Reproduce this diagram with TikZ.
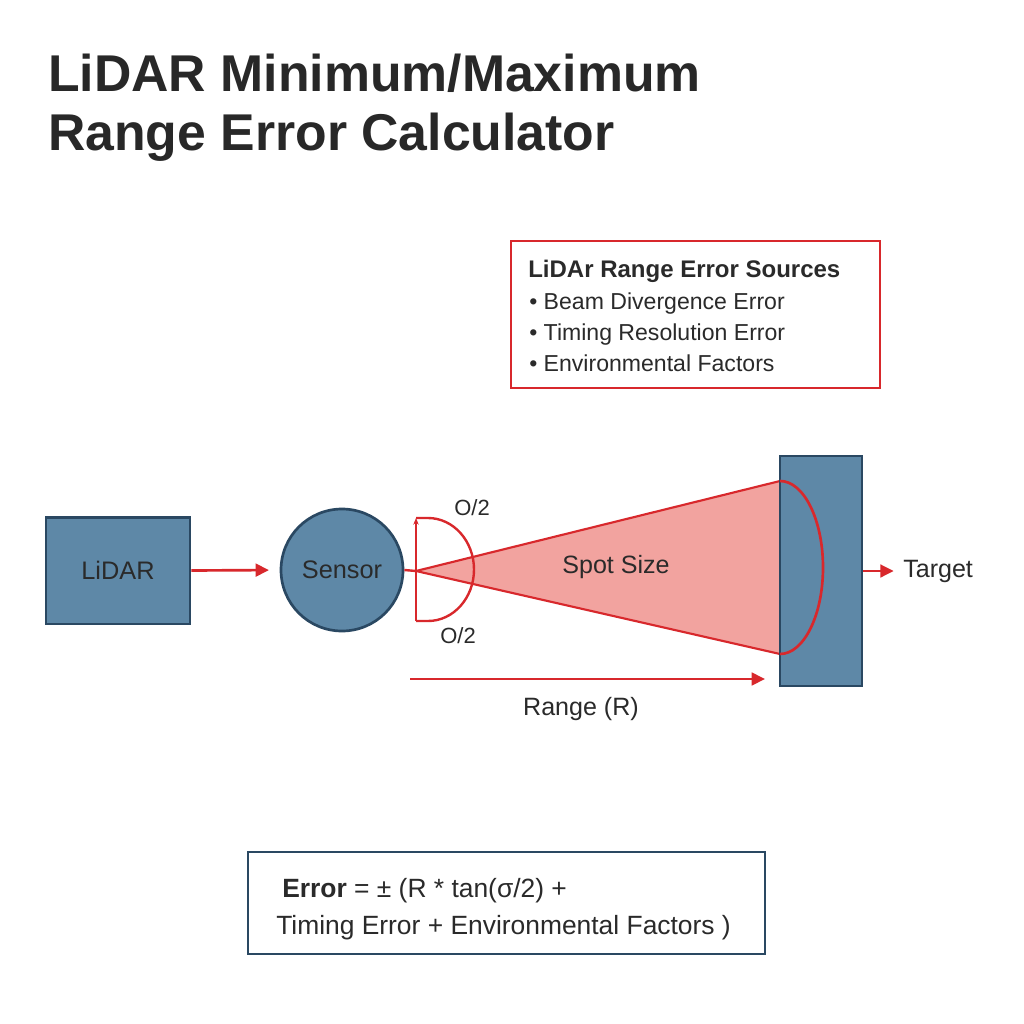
\documentclass[tikz,border=0pt]{standalone}
\usepackage{fontspec}
\setmainfont{Liberation Sans}
\usetikzlibrary{arrows.meta}
\definecolor{boxblue}{HTML}{5E88A7}
\definecolor{boxedge}{HTML}{2A4862}
\definecolor{lred}{HTML}{D8282C}
\definecolor{conefill}{HTML}{F2A39F}
\definecolor{ink}{HTML}{2A2A2A}
\begin{document}
\begin{tikzpicture}[x=0.75pt,y=-0.75pt,
  blk/.style={draw=boxedge, fill=boxblue, line width=2pt, text=ink, font=\fontsize{19}{22}\selectfont},
  redln/.style={draw=lred, line width=1.8pt},
  arr/.style={redln, line width=2pt, -{Triangle[length=10pt,width=9.5pt]}},
  lbl/.style={inner sep=0pt, text=ink, font=\fontsize{18.8}{22}\selectfont},
  ttl/.style={inner sep=0pt, anchor=base west, text=ink!95!black, font=\fontsize{38.8}{46}\selectfont\bfseries},
  srcitem/.style={inner sep=0pt, anchor=base west, text=ink, font=\fontsize{17.3}{20}\selectfont},
  frm/.style={inner sep=0pt, anchor=base west, text=ink, font=\fontsize{19.8}{24}\selectfont}
]
\useasboundingbox[fill=white] (0,0) rectangle (1024,1024);

% title
\node[ttl] (t1) at (48,91) {LiDAR Minimum/Maximum};
\node[ttl] (t2) at (48,150) {Range Error Calculator};

% sources box
\node[draw=lred, line width=2pt, minimum width=276.75pt, minimum height=110.25pt, inner sep=0pt] (src) at (695.5,314.5) {};
\node[srcitem, font=\fontsize{18}{20}\selectfont\bfseries] (s0) at (528,277) {LiDAr Range Error Sources};
\node[srcitem] (s1) at (529,309) {• Beam Divergence Error};
\node[srcitem] (s2) at (529,340) {• Timing Resolution Error};
\node[srcitem] (s3) at (529,371) {• Environmental Factors};

% cone
\coordinate (apex) at (416,571);
\coordinate (ctop) at (780,481);
\coordinate (cbot) at (780,654);
\fill[conefill] (apex) -- (ctop) -- (cbot) -- cycle;
\draw[redln, line width=1.6pt] (ctop) -- (apex) -- (cbot);

% blocks
\node[blk, minimum width=108pt, minimum height=80pt, inner sep=0pt] (lidar) at (118,570.5) {LiDAR};
\node[blk, circle, minimum size=91.5pt, inner sep=0pt] (sensor) at (342,570) {Sensor};
\node[blk, minimum width=61.5pt, minimum height=172.5pt, inner sep=0pt] (target) at (821,571) {};

% spot arc on target
\draw[redln, line width=2pt] (ctop) arc(-90:90:43 and 86.5);

% divergence half-disc
\draw[redln] (sensor.east) -- (apex);
\draw[redln, -{Stealth[length=5pt,width=4pt]}] (416,621) -- (416,518);
\draw[redln] (416,518) -- (428,518) arc(-90:90:46 and 51.5) -- (416,621);

% connectors
\draw[arr, shorten >=8pt] (lidar.east) -- (sensor.west);
\node[lbl, anchor=west] (tl) at (903,571) {Target};
\draw[arr, shorten >=7pt] (target.east) -- (tl.west);

% labels
\node[lbl] (spot) at (616,567) {Spot Size};
\node[lbl, font=\fontsize{16.5}{20}\selectfont] (a1) at (472,508) {O/2};
\node[lbl, font=\fontsize{16.5}{20}\selectfont] (a2) at (458,636) {O/2};

% range arrow
\coordinate (r0) at (410,679);
\coordinate (r1) at (765,679);
\draw[arr] (r0) -- (r1);
\node[lbl, anchor=base] (rl) at (581,715) {Range (R)};

% formula box
\node[draw=boxedge, line width=2pt, minimum width=387.75pt, minimum height=76.5pt, inner sep=0pt] (fbox) at (506.5,903) {};
\node[frm] (f1) at (282,897) {\textbf{Error} = ± (R * tan(σ/2) +};
\node[frm] (f2) at (276,934) {Timing Error + Environmental Factors )};
\end{tikzpicture}
\end{document}
